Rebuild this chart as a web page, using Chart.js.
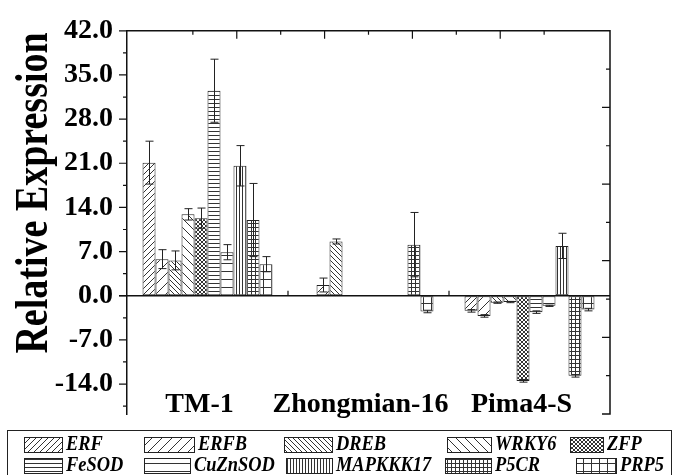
<!DOCTYPE html>
<html>
<head>
<meta charset="utf-8">
<script src="https://cdn.jsdelivr.net/npm/chart.js@4.4.0/dist/chart.umd.min.js"></script>
<style>
  html, body { margin: 0; padding: 0; background: #fff; }
  #wrap { width: 675px; height: 475px; }
</style>
</head>
<body>
<div id="wrap"><canvas id="barChart" width="675" height="475"></canvas></div>
<script>
// categories and genes
const categories = ["TM-1", "Zhongmian-16", "Pima4-S"];
const genes = ["ERF", "ERFB", "DREB", "WRKY6", "ZFP", "FeSOD", "CuZnSOD", "MAPKKK17", "P5CR", "PRP5"];

// relative expression per gene (TM-1, Zhongmian-16, Pima4-S)
const ERF = [21.1, 0, -2.4];
const ERFB = [5.8, 1.7, -3.2];
const DREB = [5.6, 8.6, -1.1];
const WRKY6 = [12.9, 0, -1.0];
const ZFP = [12.3, 0, -13.5];
const FeSOD = [32.5, 0, -2.6];
const CuZnSOD = [6.9, 0, -1.6];
const MAPKKK17 = [20.6, 0, 7.9];
const P5CR = [12.0, 8.1, -12.7];
const PRP5 = [5.0, -2.5, -2.2];

// error bar sizes
const errERF = [3.4, 0, 0.2];
const errERFB = [1.5, 1.1, 0.2];
const errDREB = [1.5, 0.4, 0.1];
const errWRKY6 = [0.9, 0, 0.1];
const errZFP = [1.6, 0, 0.2];
const errFeSOD = [5.0, 0, 0.2];
const errCuZnSOD = [1.2, 0, 0.1];
const errMAPKKK17 = [3.2, 0, 2.0];
const errP5CR = [5.8, 5.1, 0.2];
const errPRP5 = [1.2, 0.2, 0.2];

const yTicks = [-14, -7, 0, 7, 14, 21, 28, 35, 42];

const series = [ERF, ERFB, DREB, WRKY6, ZFP, FeSOD, CuZnSOD, MAPKKK17, P5CR, PRP5];
const errors = [errERF, errERFB, errDREB, errWRKY6, errZFP, errFeSOD, errCuZnSOD, errMAPKKK17, errP5CR, errPRP5];

// hatch style for each gene
const hatchKinds = [["fwd", 6], ["fwd", 10], ["back", 5], ["back", 9], ["cross", 4],
                    ["horiz", 4], ["horiz", 8], ["vert", 3], ["grid", 4], ["grid", 8]];

function makePattern(kind, s) {
  const c = document.createElement("canvas");
  c.width = s; c.height = s;
  const g = c.getContext("2d");
  g.fillStyle = "#fff";
  g.fillRect(0, 0, s, s);
  g.strokeStyle = "#333";
  g.lineWidth = 1;
  g.beginPath();
  if (kind === "fwd" || kind === "cross") {
    g.moveTo(0, s); g.lineTo(s, 0);
    g.moveTo(-1, 1); g.lineTo(1, -1);
    g.moveTo(s - 1, s + 1); g.lineTo(s + 1, s - 1);
  }
  if (kind === "back" || kind === "cross") {
    g.moveTo(0, 0); g.lineTo(s, s);
    g.moveTo(-1, s - 1); g.lineTo(1, s + 1);
    g.moveTo(s - 1, -1); g.lineTo(s + 1, 1);
  }
  if (kind === "horiz" || kind === "grid") { g.moveTo(0, s - 0.5); g.lineTo(s, s - 0.5); }
  if (kind === "vert" || kind === "grid") { g.moveTo(s - 0.5, 0); g.lineTo(s - 0.5, s); }
  g.stroke();
  return g.createPattern(c, "repeat");
}

const patterns = hatchKinds.map(h => makePattern(h[0], h[1]));
const serif = "'Liberation Serif', 'Times New Roman', serif";

// frame, tick marks, error bars, texts, legend
const decorPlugin = {
  id: "decor",
  afterDatasetsDraw(chart) {
    const { ctx, chartArea: a, scales } = chart;
    const y = scales.y, x = scales.x, xt = scales.xTop, yr = scales.yRight;
    ctx.save();

    // error bars
    ctx.strokeStyle = "#222";
    ctx.lineWidth = 1;
    chart.data.datasets.forEach((ds, i) => {
      const meta = chart.getDatasetMeta(i);
      meta.data.forEach((bar, j) => {
        const v = ds.data[j], e = ds.errors[j];
        if (!e || v === 0) return;
        const bx = Math.round(bar.x) + 0.5;
        const top = y.getPixelForValue(v + e), bot = y.getPixelForValue(v - e);
        ctx.beginPath();
        ctx.moveTo(bx, top); ctx.lineTo(bx, bot);
        ctx.moveTo(bx - 4, top); ctx.lineTo(bx + 4, top);
        ctx.moveTo(bx - 4, bot); ctx.lineTo(bx + 4, bot);
        ctx.stroke();
      });
    });

    // frame lines and zero line
    ctx.strokeStyle = "#111";
    ctx.lineWidth = 1.5;
    const y0 = y.getPixelForValue(0);
    ctx.beginPath();
    ctx.moveTo(a.left, a.top); ctx.lineTo(a.right, a.top); ctx.lineTo(a.right, a.bottom);
    ctx.lineTo(a.right - 8, a.bottom);
    ctx.moveTo(a.left - 8, y0); ctx.lineTo(a.right, y0);
    ctx.stroke();

    ctx.lineWidth = 1.2;
    ctx.beginPath();
    // left axis ticks (outward)
    for (let k = -5; k <= 12; k++) {
      const v = 3.5 * k;
      const py = y.getPixelForValue(v);
      const len = k % 2 === 0 ? 8 : 4;
      ctx.moveTo(a.left - len, py); ctx.lineTo(a.left, py);
    }
    // top axis ticks (inward)
    for (let k = 1; k <= 9; k++) {
      const px = xt.getPixelForValue(k);
      const len = k % 2 === 0 ? 8 : 4;
      ctx.moveTo(px, a.top); ctx.lineTo(px, a.top + len);
    }
    // right axis ticks (inward)
    for (let k = 1; k <= 9; k++) {
      const py = yr.getPixelForValue(k);
      const len = k % 2 === 0 ? 8 : 4;
      ctx.moveTo(a.right, py); ctx.lineTo(a.right - len, py);
    }
    // ticks on the zero line between categories
    for (let k = 0; k < categories.length - 1; k++) {
      const px = (x.getPixelForValue(k) + x.getPixelForValue(k + 1)) / 2;
      ctx.moveTo(px, y0); ctx.lineTo(px, y0 - 5);
    }
    ctx.stroke();

    // category labels inside the plot
    ctx.fillStyle = "#000";
    ctx.font = "bold 28px " + serif;
    ctx.textAlign = "center";
    ctx.textBaseline = "alphabetic";
    categories.forEach((c, i) => {
      ctx.fillText(c, x.getPixelForValue(i) - 8, 412);
    });

    // y axis title (a bit heavier, like the original)
    ctx.save();
    ctx.translate(47, 193);
    ctx.rotate(-Math.PI / 2);
    ctx.scale(1, 1.2);
    ctx.font = "bold 38px " + serif;
    ctx.textAlign = "center";
    ctx.fillText("Relative Expression", 0, 0);
    ctx.restore();

    // legend box
    ctx.strokeStyle = "#222";
    ctx.lineWidth = 1;
    ctx.strokeRect(7.5, 430.5, 664, 60);
    const cols = [[24, 62, 66], [144, 194, 198], [284, 332, 336], [447, 491, 495], [570, 603, 607],
                  [24, 62, 66], [144, 190, 194], [286, 332, 336], [445, 491, 495], [576, 616, 620]];
    ctx.font = "italic bold 20px " + serif;
    ctx.textAlign = "left";
    ctx.textBaseline = "middle";
    genes.forEach((g, i) => {
      const row = i < 5 ? 0 : 1;
      const sy = row === 0 ? 437 : 458;
      const [x1, x2, tx] = cols[i];
      ctx.fillStyle = "#fff";
      ctx.fillRect(x1, sy, x2 - x1, 15);
      ctx.fillStyle = patterns[i];
      ctx.fillRect(x1, sy, x2 - x1, 15);
      ctx.strokeRect(x1 + 0.5, sy + 0.5, x2 - x1, 15);
      ctx.fillStyle = "#000";
      ctx.save();
      ctx.translate(tx, sy + 8);
      ctx.scale(0.92, 1);
      ctx.fillText(g, 0, 0);
      ctx.restore();
    });
    ctx.restore();
  }
};

const ctx = document.getElementById("barChart").getContext("2d");
const barChart = new Chart(ctx, {
  type: "bar",
  data: {
    labels: categories,
    datasets: genes.map((g, i) => ({
      label: g,
      data: series[i],
      errors: errors[i],
      backgroundColor: patterns[i],
      borderColor: "#222",
      borderWidth: 1,
      borderSkipped: false,
      categoryPercentage: 0.807,
      barPercentage: 1.0,
      xAxisID: "x",
      yAxisID: "y",
    })),
  },
  options: {
    responsive: false,
    animation: false,
    devicePixelRatio: 1,
    layout: { padding: { left: 0, right: 65, top: 22, bottom: 61 } },
    plugins: {
      legend: { display: false },
      tooltip: { enabled: false },
    },
    scales: {
      x: {
        display: false,
        grid: { display: false },
      },
      y: {
        min: -18.75,
        max: 42,
        afterBuildTicks: (scale) => {
          scale.ticks = yTicks.map(v => ({ value: v }));
        },
        afterFit: (scale) => { scale.width = 127; },
        grid: { drawOnChartArea: false, drawTicks: false },
        border: { display: true, color: "#111", width: 1.5 },
        ticks: {
          padding: 14,
          color: "#000",
          font: { family: serif, size: 28, weight: "bold" },
          callback: (v) => Number(v).toFixed(1),
        },
      },
      xTop: { type: "linear", position: "top", min: 0, max: 10, display: false },
      yRight: { type: "linear", position: "right", min: 0, max: 10, display: false },
    },
  },
  plugins: [decorPlugin],
});
</script>
</body>
</html>
